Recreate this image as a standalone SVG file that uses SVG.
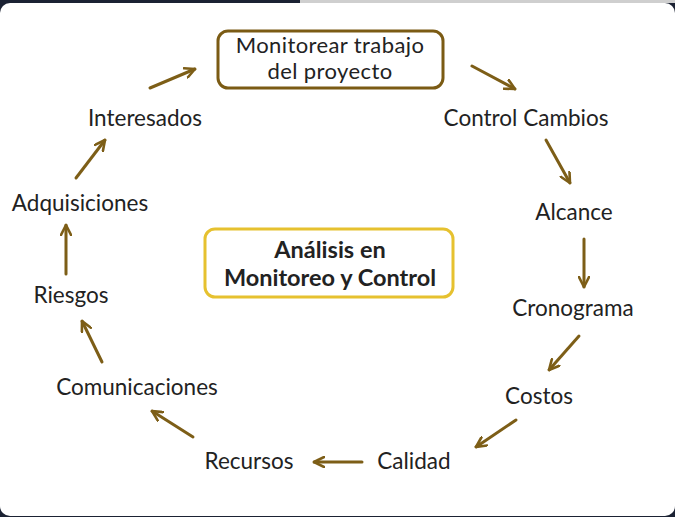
<svg xmlns="http://www.w3.org/2000/svg" width="675" height="517" viewBox="0 0 675 517">
<style>
.lbl{font-family:Lato,"Liberation Sans",sans-serif;font-size:22.5px;fill:#222;text-anchor:middle}
.box{font-size:22px;letter-spacing:0.4px}
.bold{font-weight:bold;font-size:23.5px}
.ar{stroke:#7d5e17;stroke-width:3;fill:none;stroke-linecap:round}
</style>
<defs>
<marker id="ah" viewBox="0 0 12 12" refX="11" refY="6" markerWidth="12" markerHeight="12" markerUnits="userSpaceOnUse" orient="auto">
<path d="M1,1 L11,6 L1,11" fill="none" stroke="#7d5e17" stroke-width="2.6" stroke-linecap="round" stroke-linejoin="round"/>
</marker>
</defs>
<rect x="0" y="0" width="675" height="517" fill="#1b2233"/>
<rect x="300" y="0" width="375" height="3" fill="#cfcfcf"/>
<rect x="0" y="3" width="675" height="513" rx="10" fill="#fff"/>
<g id="n-top">
<rect x="218" y="31" width="225" height="57" rx="10" fill="#fff" stroke="#7b5b14" stroke-width="3"/>
<text class="lbl box" x="330" y="53">Monitorear trabajo</text>
<text class="lbl box" x="330" y="79">del proyecto</text>
</g>
<g id="n-center">
<rect x="205" y="229" width="248" height="68" rx="10" fill="#fff" stroke="#e6c12f" stroke-width="3"/>
<text class="lbl bold" x="330" y="258">Análisis en</text>
<text class="lbl bold" x="330" y="286">Monitoreo y Control</text>
</g>
<g id="n-interesados"><text class="lbl" x="145" y="126">Interesados</text></g>
<g id="n-control"><text class="lbl" x="526" y="126">Control Cambios</text></g>
<g id="n-alcance"><text class="lbl" x="574" y="220">Alcance</text></g>
<g id="n-cronograma"><text class="lbl" x="573" y="316">Cronograma</text></g>
<g id="n-costos"><text class="lbl" x="539" y="404">Costos</text></g>
<g id="n-calidad"><text class="lbl" x="414" y="469">Calidad</text></g>
<g id="n-recursos"><text class="lbl" x="249" y="469">Recursos</text></g>
<g id="n-comunicaciones"><text class="lbl" x="137" y="395">Comunicaciones</text></g>
<g id="n-riesgos"><text class="lbl" x="71" y="303">Riesgos</text></g>
<g id="n-adquisiciones"><text class="lbl" x="80" y="211">Adquisiciones</text></g>
<g id="connectors">
<line class="ar" x1="150" y1="88" x2="195" y2="69" marker-end="url(#ah)"/>
<line class="ar" x1="472" y1="66" x2="515" y2="89" marker-end="url(#ah)"/>
<line class="ar" x1="546" y1="140" x2="570" y2="183" marker-end="url(#ah)"/>
<line class="ar" x1="584" y1="239" x2="584" y2="287" marker-end="url(#ah)"/>
<line class="ar" x1="579" y1="336" x2="549" y2="370" marker-end="url(#ah)"/>
<line class="ar" x1="516" y1="420" x2="476" y2="447" marker-end="url(#ah)"/>
<line class="ar" x1="362" y1="462" x2="314" y2="462" marker-end="url(#ah)"/>
<line class="ar" x1="193" y1="437" x2="152" y2="411" marker-end="url(#ah)"/>
<line class="ar" x1="102" y1="362" x2="82" y2="321" marker-end="url(#ah)"/>
<line class="ar" x1="66" y1="274" x2="66" y2="225" marker-end="url(#ah)"/>
<line class="ar" x1="76" y1="178" x2="105" y2="140" marker-end="url(#ah)"/>
</g>
</svg>
